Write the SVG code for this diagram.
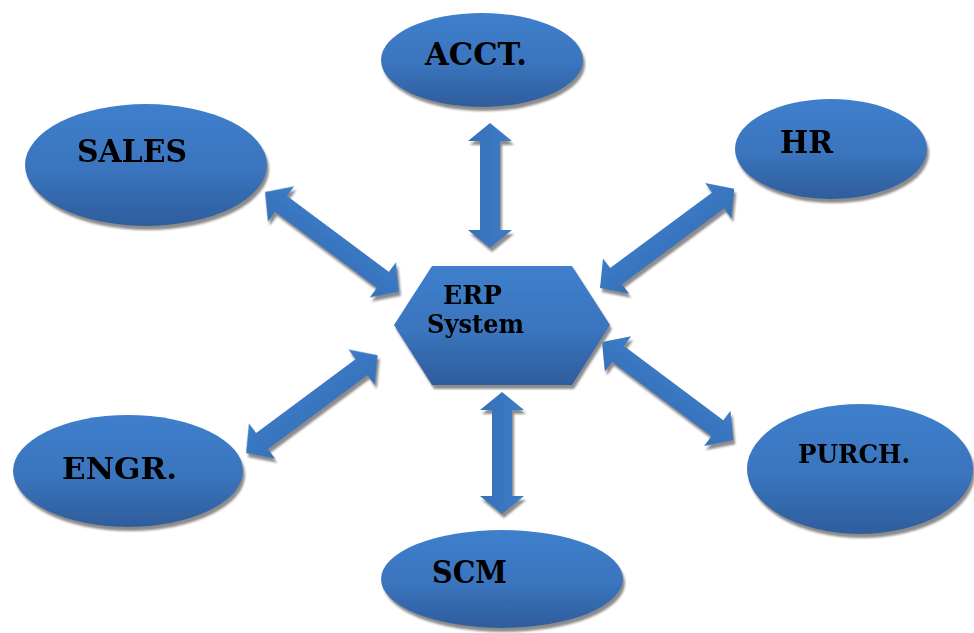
<svg xmlns="http://www.w3.org/2000/svg" width="974" height="633" viewBox="0 0 974 633">
  <style>
    .node { fill: url(#blueFill); filter: url(#softShadow); }
    .label { font-family: "DejaVu Serif", "Liberation Serif", serif; font-weight: bold; fill: #000; }
    .arrow { fill: url(#arrowFill); }
  </style>
  <defs>
    <linearGradient id="blueFill" x1="0" y1="0" x2="0" y2="1">
      <stop offset="0" stop-color="#3f7fcc"/>
      <stop offset="0.55" stop-color="#3a74bd"/>
      <stop offset="1" stop-color="#2e5d9c"/>
    </linearGradient>
    <linearGradient id="arrowFill" x1="0" y1="0" x2="0" y2="1">
      <stop offset="0" stop-color="#3d7cc8"/>
      <stop offset="1" stop-color="#3570b8"/>
    </linearGradient>
    <filter id="softShadow" x="-10%" y="-10%" width="125%" height="130%">
      <feGaussianBlur in="SourceAlpha" stdDeviation="0.8" result="b"/>
      <feOffset in="b" dx="2" dy="4" result="o"/>
      <feFlood flood-color="#8c8c8c"/>
      <feComposite in2="o" operator="in" result="s"/>
      <feMerge>
        <feMergeNode in="s"/>
        <feMergeNode in="SourceGraphic"/>
      </feMerge>
    </filter>
  </defs>

  <rect width="974" height="633" fill="#ffffff"/>

  <!-- double-headed block arrows between the hub and each module -->
  <g id="connectors" filter="url(#softShadow)">
    <!-- ACCT <-> ERP -->
    <g transform="translate(490,123) rotate(90)">
      <path class="arrow" d="M0,0 L18,-22 L18,-10 L107,-10 L107,-22 L125,0 L107,22 L107,10 L18,10 L18,22 Z"/>
    </g>
    <!-- ERP <-> SCM -->
    <g transform="translate(502,392) rotate(90)">
      <path class="arrow" d="M0,0 L18,-22 L18,-10 L104,-10 L104,-22 L122,0 L104,22 L104,10 L18,10 L18,22 Z"/>
    </g>
    <!-- SALES <-> ERP -->
    <g transform="translate(265,192) rotate(36.7)">
      <path class="arrow" d="M0,0 L20,-22 L20,-10 L147,-10 L147,-22 L167,0 L147,22 L147,10 L20,10 L20,22 Z"/>
    </g>
    <!-- ERP <-> HR -->
    <g transform="translate(600,288) rotate(-36.5)">
      <path class="arrow" d="M0,0 L20,-22 L20,-10 L147,-10 L147,-22 L167,0 L147,22 L147,10 L20,10 L20,22 Z"/>
    </g>
    <!-- ENGR <-> ERP -->
    <g transform="translate(246,453) rotate(-36.6)">
      <path class="arrow" d="M0,0 L20,-22 L20,-10 L144,-10 L144,-22 L164,0 L144,22 L144,10 L20,10 L20,22 Z"/>
    </g>
    <!-- ERP <-> PURCH -->
    <g transform="translate(602,342) rotate(36.8)">
      <path class="arrow" d="M0,0 L20,-22 L20,-10 L144,-10 L144,-22 L164,0 L144,22 L144,10 L20,10 L20,22 Z"/>
    </g>
  </g>

  <!-- central hub -->
  <g id="erp">
    <polygon class="node" points="432,266 572,266 610,325 572,385 432,385 394,325"/>
    <text class="label" x="443" y="304" font-size="26" textLength="59" lengthAdjust="spacingAndGlyphs">ERP</text>
    <text class="label" x="427" y="333" font-size="26" textLength="97" lengthAdjust="spacingAndGlyphs">System</text>
  </g>

  <!-- module nodes -->
  <g id="acct">
    <ellipse class="node" cx="482" cy="60" rx="101" ry="47"/>
    <text class="label" x="425" y="65" font-size="31" textLength="102" lengthAdjust="spacingAndGlyphs">ACCT.</text>
  </g>
  <g id="sales">
    <ellipse class="node" cx="146" cy="165" rx="121" ry="61"/>
    <text class="label" x="77" y="162" font-size="31" textLength="110" lengthAdjust="spacingAndGlyphs">SALES</text>
  </g>
  <g id="hr">
    <ellipse class="node" cx="831" cy="149" rx="96" ry="50"/>
    <text class="label" x="780" y="153" font-size="31" textLength="53" lengthAdjust="spacingAndGlyphs">HR</text>
  </g>
  <g id="engr">
    <ellipse class="node" cx="128" cy="471" rx="115" ry="56"/>
    <text class="label" x="62" y="479" font-size="30" textLength="115" lengthAdjust="spacingAndGlyphs">ENGR.</text>
  </g>
  <g id="purch">
    <ellipse class="node" cx="860" cy="469" rx="113" ry="65"/>
    <text class="label" x="798" y="463" font-size="26" textLength="112" lengthAdjust="spacingAndGlyphs">PURCH.</text>
  </g>
  <g id="scm">
    <ellipse class="node" cx="502" cy="579" rx="121" ry="49"/>
    <text class="label" x="432" y="583" font-size="31" textLength="75" lengthAdjust="spacingAndGlyphs">SCM</text>
  </g>
</svg>
